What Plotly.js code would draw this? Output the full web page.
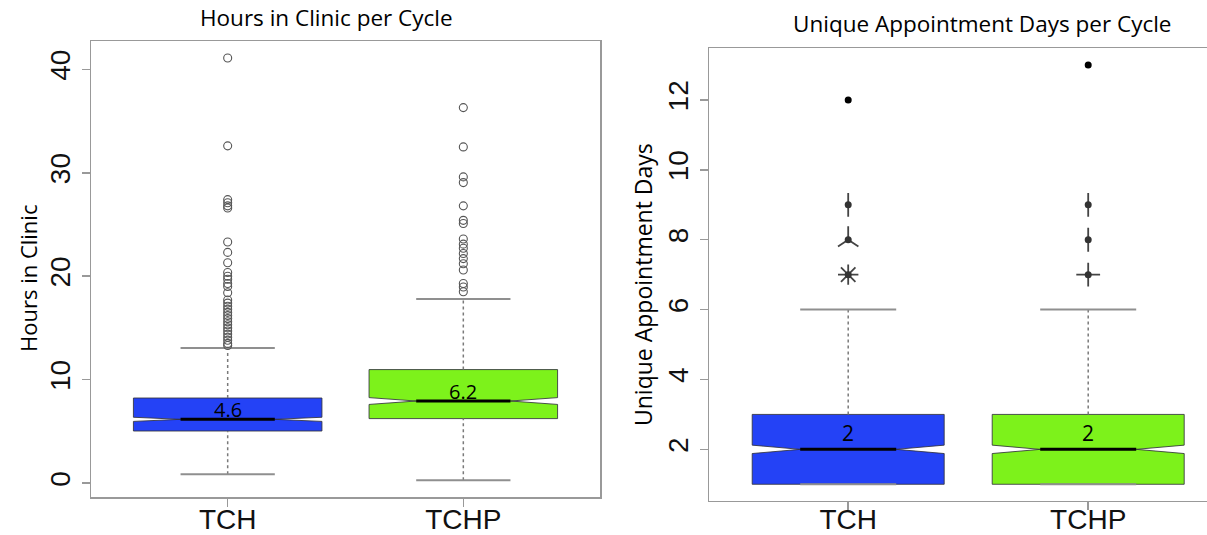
<!DOCTYPE html>
<html><head><meta charset="utf-8">
<script src="https://cdn.plot.ly/plotly-3.0.1.min.js"></script>
<style>html,body{margin:0;padding:0;background:#fff;} #chart{width:1207px;height:535px;}</style>
</head><body><div id="chart"></div>
<script>
// ---------- data ----------
const categories = ['TCH', 'TCHP'];

// Hours in Clinic per Cycle
const hoursQ1 = [5.03, 6.23];
const hoursMedian = [6.16, 7.93];
const hoursQ3 = [8.22, 10.97];
const hoursLowerWhisker = [0.84, 0.26];
const hoursUpperWhisker = [13.06, 17.8];
const hoursNotchSpan = [0.2, 0.33];
const hoursLabels = ['4.6', '6.2'];
const hoursOutliersTCH = [41.1, 32.6, 27.4, 27.1, 26.8, 26.6, 23.3, 22.3, 21.3, 20.35, 20.0, 19.7, 19.3, 19.0,
  18.4, 17.7, 17.4, 17.1, 16.8, 16.5, 16.2, 15.9, 15.6, 15.3, 15.0, 14.7, 14.4, 14.1, 13.8, 13.5, 13.3];
const hoursOutliersTCHP = [36.3, 32.5, 29.6, 29.05, 26.8, 25.4, 25.1, 23.6, 23.1, 22.7, 22.2, 21.7, 21.2, 20.6,
  19.3, 18.95, 18.5];

// Unique Appointment Days per Cycle
const daysQ1 = [1, 1];
const daysMedian = [2, 2];
const daysQ3 = [3, 3];
const daysLowerWhisker = [1, 1];
const daysUpperWhisker = [6, 6];
const daysNotchSpan = [0.12, 0.12];
const daysLabels = ['2', '2'];
const daysOutlierValuesTCH = [7, 8, 9, 12];
const daysOutlierCountsTCH = [8, 3, 2, 1];
const daysOutlierValuesTCHP = [7, 8, 9, 13];
const daysOutlierCountsTCHP = [4, 2, 2, 1];

// ---------- styles ----------
const boxColors = ['#2442f6', '#7df21b'];
const frameColor = '#999999';
const W = 1207, H = 535;
const positions = categories.map((c, i) => i + 1);
const halfBox = 0.4, halfCap = 0.2, halfMed = 0.2;

const traces = [];

function addPanel(xa, ya, q1, med, q3, lw, uw, notch) {
  positions.forEach((p, i) => {
    traces.push({
      type: 'box', xaxis: xa, yaxis: ya, x: [p],
      q1: [q1[i]], median: [med[i]], q3: [q3[i]],
      lowerfence: [q1[i]], upperfence: [q3[i]],
      notched: true, notchspan: [notch[i]], notchwidth: 0.25,
      width: 2 * halfBox, showwhiskers: false, whiskerwidth: 0,
      boxpoints: false, fillcolor: boxColors[i],
      line: { color: 'rgba(50,50,60,0.85)', width: 1 },
      hoverinfo: 'skip', showlegend: false
    });
  });
  positions.forEach((p, i) => {
    traces.push({
      type: 'scatter', mode: 'lines', xaxis: xa, yaxis: ya,
      x: [p, p, null, p, p], y: [q3[i], uw[i], null, lw[i], q1[i]],
      line: { color: '#7a7a7a', width: 1.5, dash: 'dot' },
      hoverinfo: 'skip', showlegend: false
    });
    traces.push({
      type: 'scatter', mode: 'lines', xaxis: xa, yaxis: ya,
      x: [p - halfCap, p + halfCap, null, p - halfCap, p + halfCap],
      y: [uw[i], uw[i], null, lw[i], lw[i]],
      line: { color: '#8f8f8f', width: 2 },
      hoverinfo: 'skip', showlegend: false
    });
    traces.push({
      type: 'scatter', mode: 'lines', xaxis: xa, yaxis: ya,
      x: [p - halfMed, p + halfMed], y: [med[i], med[i]],
      line: { color: '#000', width: 3 },
      hoverinfo: 'skip', showlegend: false
    });
  });
}

addPanel('x', 'y', hoursQ1, hoursMedian, hoursQ3, hoursLowerWhisker, hoursUpperWhisker, hoursNotchSpan);
addPanel('x2', 'y2', daysQ1, daysMedian, daysQ3, daysLowerWhisker, daysUpperWhisker, daysNotchSpan);

[hoursOutliersTCH, hoursOutliersTCHP].forEach((vals, i) => {
  traces.push({
    type: 'scatter', mode: 'markers', xaxis: 'x', yaxis: 'y',
    x: vals.map(() => positions[i]), y: vals,
    marker: { symbol: 'circle-open', size: 8, color: '#555', line: { width: 1.1 } },
    hoverinfo: 'skip', showlegend: false
  });
});

function petal(count) {
  if (count <= 1) return null;
  if (count === 2) return 'line-ns';
  if (count === 3) return 'y-up';
  if (count === 4) return 'cross-thin';
  return 'asterisk';
}
[[daysOutlierValuesTCH, daysOutlierCountsTCH], [daysOutlierValuesTCHP, daysOutlierCountsTCHP]].forEach(([vals, counts], i) => {
  const multi = vals.map((v, k) => counts[k] > 1);
  const xs = vals.map(() => positions[i]);
  traces.push({
    type: 'scatter', mode: 'markers', xaxis: 'x2', yaxis: 'y2',
    x: xs.filter((_, k) => multi[k]), y: vals.filter((_, k) => multi[k]),
    marker: { symbol: counts.filter((c) => c > 1).map(petal), size: 17,
      color: '#444', line: { color: '#444', width: 1.8 } },
    hoverinfo: 'skip', showlegend: false
  });
  traces.push({
    type: 'scatter', mode: 'markers', xaxis: 'x2', yaxis: 'y2',
    x: xs, y: vals,
    marker: { symbol: 'circle', size: 7, color: counts.map(c => c > 1 ? '#333' : '#000') },
    hoverinfo: 'skip', showlegend: false
  });
});

const txtFont = 'Open Sans, Noto Sans, sans-serif';
const annotations = [];
hoursLabels.forEach((t, i) => annotations.push({
  xref: 'x', yref: 'y', x: positions[i], y: hoursMedian[i], text: t, showarrow: false,
  yanchor: 'middle', yshift: 10, font: { family: txtFont, size: 20, color: '#000' }
}));
daysLabels.forEach((t, i) => annotations.push({
  xref: 'x2', yref: 'y2', x: positions[i], y: daysMedian[i], text: t, showarrow: false,
  yanchor: 'middle', yshift: 16, font: { family: txtFont, size: 21, color: '#000' }
}));
annotations.push({ xref: 'paper', yref: 'paper', x: 326 / W, y: 1 - 17 / H, text: 'Hours in Clinic per Cycle',
  showarrow: false, xanchor: 'center', yanchor: 'middle', font: { family: txtFont, size: 22.5, color: '#000' } });
annotations.push({ xref: 'paper', yref: 'paper', x: 982 / W, y: 1 - 24 / H, text: 'Unique Appointment Days per Cycle',
  showarrow: false, xanchor: 'center', yanchor: 'middle', font: { family: txtFont, size: 22.5, color: '#000' } });
annotations.push({ xref: 'paper', yref: 'paper', x: 28 / W, y: 1 - 279 / H, text: 'Hours in Clinic', textangle: -90,
  showarrow: false, xanchor: 'center', yanchor: 'middle', font: { family: txtFont, size: 22, color: '#000' } });
annotations.push({ xref: 'paper', yref: 'paper', x: 643 / W, y: 1 - 285 / H, text: 'Unique Appointment Days', textangle: -90,
  showarrow: false, xanchor: 'center', yanchor: 'middle', font: { family: txtFont, size: 23, color: '#000' } });

const tickFont = { family: 'Liberation Sans, Arial, sans-serif', size: 28, color: '#111' };
const common = {
  showline: true, linecolor: frameColor, linewidth: 1.5, ticks: 'outside', ticklen: 8,
  tickcolor: frameColor, tickwidth: 1.5, showgrid: false, zeroline: false, tickfont: tickFont, fixedrange: true
};
const xTickFont = Object.assign({}, tickFont, { size: 28 });

const layout = {
  width: W, height: H, margin: { l: 0, r: 0, t: 0, b: 0 },
  paper_bgcolor: '#fff', plot_bgcolor: '#fff', showlegend: false,
  xaxis: Object.assign({}, common, { domain: [91 / W, 600 / W], range: [0.42, 2.58], anchor: 'y',
    tickvals: positions, ticktext: categories, mirror: true, tickfont: xTickFont, ticklabelstandoff: -11 }),
  yaxis: Object.assign({}, common, { domain: [1 - 497 / H, 1 - 41 / H], range: [-1.35, 42.74], anchor: 'x',
    tickvals: [0, 10, 20, 30, 40], tickangle: -90, mirror: true }),
  xaxis2: Object.assign({}, common, { domain: [709 / W, 1], range: [0.42, 2.495], anchor: 'y2',
    tickvals: positions, ticktext: categories, mirror: true, tickfont: xTickFont, ticklabelstandoff: -15 }),
  yaxis2: Object.assign({}, common, { domain: [1 - 500.7 / H, 1 - 48.3 / H], range: [0.53, 13.48], anchor: 'x2',
    tickvals: [2, 4, 6, 8, 10, 12], tickangle: -90, mirror: false }),
  annotations: annotations
};

Plotly.newPlot('chart', traces, layout, { displayModeBar: false, staticPlot: true });
</script>
</body></html>
